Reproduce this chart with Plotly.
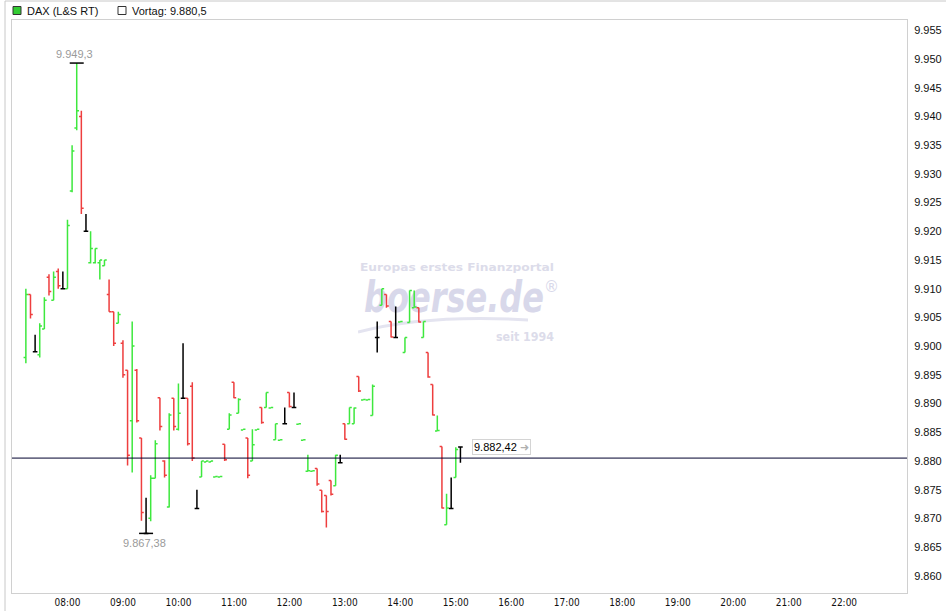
import base64
import plotly.graph_objects as go

# ---------------- data ----------------
DAY = "2014-12-01"
times = ["07:15", "07:20", "07:25", "07:30", "07:35", "07:40", "07:45", "07:50", "07:55",
         "08:00", "08:05", "08:10", "08:15", "08:20", "08:25", "08:30", "08:35", "08:40", "08:45", "08:50", "08:55",
         "09:00", "09:05", "09:10", "09:15", "09:20", "09:25", "09:30", "09:35", "09:40", "09:45", "09:50", "09:55",
         "10:00", "10:05", "10:10", "10:15", "10:20", "10:25", "10:30", "10:35", "10:40", "10:45", "10:50", "10:55",
         "11:00", "11:05", "11:10", "11:15", "11:20", "11:25", "11:30", "11:35", "11:40", "11:45", "11:50", "11:55",
         "12:00", "12:05", "12:10", "12:15", "12:20", "12:25", "12:30", "12:35", "12:40", "12:45", "12:50", "12:55",
         "13:00", "13:05", "13:10", "13:15", "13:20", "13:25", "13:30", "13:35", "13:40", "13:45", "13:50", "13:55",
         "14:00", "14:05", "14:10", "14:15", "14:20", "14:25", "14:30", "14:35", "14:40", "14:45", "14:50", "14:55",
         "15:00", "15:05"]
opens = [9898, 9909, 9899, 9898.5, 9903, 9912, 9908, 9913, 9910,
         9910, 9927, 9938, 9940, 9920, 9914.5, 9914.5, 9914.5, 9914, 9909, 9906, 9904,
         9900.5, 9895.8, 9887, 9895.8, 9884, 9867.38, 9870, 9877, 9891, 9880, 9872, 9890.9,
         9885.5, 9890.9, 9890.9, 9893, 9871.7, 9877.2, 9879.8, 9879.8, 9877.2, 9877.2, 9882.9, 9885.5,
         9893.7, 9888.3, 9885.4, 9884, 9880, 9885.4, 9889.3, 9889.3, 9889.2, 9883.7, 9883.6, 9886.5,
         9891.9, 9889.3, 9886.4, 9883.6, 9878.2, 9878.2, 9878.7, 9874.9, 9874, 9876.6, 9875.7, 9879.7,
         9886.5, 9886.5, 9886.5, 9894.7, 9890.6, 9890.6, 9887.9, 9901.5, 9907.1, 9909, 9904.3, 9901.5,
         9904.2, 9898.9, 9904.1, 9906.7, 9906.7, 9901.5, 9898.9, 9893.3, 9885.2, 9882.5, 9868.9, 9871.7,
         9877.1, 9882.42]
highs = [9910, 9909, 9902, 9904, 9908.5, 9912.5, 9913, 9913.5, 9913,
         9922, 9935, 9949.3, 9941, 9923, 9920, 9917, 9915, 9915, 9911.6, 9906, 9906,
         9901, 9895.8, 9904.3, 9896, 9884, 9873.6, 9877.5, 9883.6, 9891, 9880.1, 9888.3, 9890.9,
         9893.5, 9900.5, 9890.9, 9893.7, 9875, 9880, 9880, 9880, 9877.3, 9877.3, 9882.9, 9888.3,
         9893.7, 9890.9, 9885.5, 9884, 9885.5, 9885.5, 9889.3, 9891.9, 9889.3, 9886.5, 9883.7, 9889.3,
         9891.9, 9891.9, 9886.5, 9883.7, 9881.1, 9878.3, 9878.7, 9874.9, 9874, 9876.6, 9881.1, 9881.1,
         9886.5, 9889.3, 9889.3, 9894.7, 9890.7, 9890.7, 9893.3, 9904.3, 9910, 9909, 9904.3, 9906.9,
         9904.3, 9901.5, 9909.7, 9909.7, 9906.7, 9904.3, 9898.9, 9893.3, 9887.9, 9882.5, 9874.3, 9877.1,
         9882.4, 9882.5]
lows = [9897, 9904.8, 9899, 9898, 9903, 9908.8, 9908, 9910, 9910,
        9910, 9926.8, 9937.6, 9923, 9920, 9914.4, 9914.4, 9911.6, 9914, 9906, 9900, 9904,
        9894.5, 9879.2, 9878, 9886.7, 9869.6, 9867.38, 9869.5, 9877, 9885.3, 9877.1, 9871.9, 9885.3,
        9885.3, 9890.9, 9882.7, 9880, 9871.7, 9877.2, 9879.8, 9879.8, 9877.2, 9877.2, 9880, 9885.5,
        9890.9, 9888.3, 9885.4, 9877, 9880, 9885.4, 9886.5, 9889.3, 9889.2, 9883.7, 9883.6, 9886.5,
        9889.3, 9889.3, 9886.4, 9883.6, 9878.2, 9878.2, 9875.7, 9871, 9868.4, 9874, 9875.7, 9879.7,
        9883.7, 9886.5, 9886.5, 9892, 9890.6, 9890.6, 9887.9, 9898.9, 9907.1, 9906.7, 9901.5, 9901.5,
        9904.2, 9898.9, 9904.1, 9906.7, 9904.1, 9901.5, 9894.5, 9887.9, 9885.2, 9871.7, 9868.9, 9871.7,
        9877.1, 9879.7]
closes = [9909, 9905.5, 9899, 9903.5, 9908, 9909.5, 9912, 9910.5, 9910,
          9921, 9934, 9941, 9924, 9920, 9917, 9917, 9915, 9915, 9906, 9900.5, 9905.5,
          9895, 9881, 9900, 9887, 9871, 9867.38, 9877, 9883, 9886, 9877.5, 9888, 9886,
          9888.3, 9890.9, 9883, 9880.5, 9871.7, 9880, 9880, 9880, 9877.3, 9877.3, 9880.2, 9888,
          9891, 9890.7, 9885.5, 9877.5, 9882.8, 9885.5, 9886.7, 9891.9, 9889.3, 9886.5, 9883.7, 9886.5,
          9889.5, 9889.3, 9886.5, 9883.7, 9878.3, 9878.3, 9876, 9871.2, 9871.2, 9874.2, 9881, 9879.7,
          9883.8, 9889.3, 9889.2, 9892.2, 9890.7, 9890.7, 9893, 9901.5, 9910, 9907, 9901.6, 9901.5,
          9904.3, 9901.5, 9909.7, 9906.8, 9904.2, 9904.3, 9894.6, 9888, 9885.3, 9871.8, 9871.8, 9871.7,
          9882, 9882.42]

VORTAG = 9880.5
y_ticks = list(range(9860, 9956, 5))
x_ticks = ["%02d:00" % h for h in range(8, 23)]
X_RANGE = ("07:00", "23:08")
Y_RANGE = (9857.0, 9956.8)

GREEN = "#3ee83e"
RED = "#ee3e3e"
BLACK = "#000000"

# ---------------- helpers ----------------
W, H = 946, 611
ML, MR, MT, MB = 12, 39, 20, 18
PW, PH = W - ML - MR, H - MT - MB


def px(x):
    return (x - ML) / PW


def py(y):
    return (H - MB - y) / PH


def ts(t):
    return f"{DAY} {t}"


fig = go.Figure()

groups = [("up", GREEN, lambda o, c: c > o),
          ("down", RED, lambda o, c: c < o),
          ("flat", BLACK, lambda o, c: c == o)]
for name, col, cond in groups:
    idx = [i for i in range(len(times)) if cond(opens[i], closes[i])]
    fig.add_trace(go.Ohlc(
        x=[ts(times[i]) for i in idx],
        open=[opens[i] for i in idx],
        high=[highs[i] for i in idx],
        low=[lows[i] for i in idx],
        close=[closes[i] for i in idx],
        increasing=dict(line=dict(color=col, width=1.5)),
        decreasing=dict(line=dict(color=col, width=1.5)),
        tickwidth=0.5, name=name, showlegend=False, hoverinfo="skip",
    ))

# high / low markers
i_hi = max(range(len(highs)), key=lambda i: highs[i])
i_lo = min(range(len(lows)), key=lambda i: lows[i])
fig.add_trace(go.Scatter(
    x=[ts(times[i_hi]), ts(times[i_lo])], y=[highs[i_hi], lows[i_lo]],
    mode="markers", marker=dict(symbol="line-ew", size=10, line=dict(color=BLACK, width=1.5)),
    showlegend=False, hoverinfo="skip"))


def de(v, nd):
    s = f"{v:,.{nd}f}"
    return s.replace(",", "X").replace(".", ",").replace("X", ".")


gray_font = dict(family="Liberation Sans, Arial, sans-serif", size=11, color="#9a9a9a")
fig.add_annotation(x=ts(times[i_hi]), y=highs[i_hi], text=de(highs[i_hi], 1), showarrow=False,
                   yanchor="bottom", yshift=1, xshift=-2, font=gray_font)
fig.add_annotation(x=ts(times[i_lo]), y=lows[i_lo], text=de(lows[i_lo], 2), showarrow=False,
                   yanchor="top", yshift=-2, xshift=-2, font=gray_font)

# last price box
fig.add_annotation(x=ts(times[-1]), y=closes[-1], xanchor="left", xshift=12, showarrow=False,
                   text=de(closes[-1], 2) + " <span style='color:#b0b0b0'>➜</span>",
                   font=dict(family="Liberation Sans, Arial, sans-serif", size=11, color="#000"),
                   bgcolor="white", bordercolor="#d4d4d4", borderwidth=1, borderpad=1)

# previous close line
fig.add_shape(type="line", xref="paper", x0=0, x1=1, yref="y", y0=VORTAG, y1=VORTAG,
              line=dict(color="#00002e", width=1))

# outer frame lines
fig.add_shape(type="line", xref="paper", yref="paper", x0=px(5), x1=px(5), y0=py(611), y1=py(1),
              line=dict(color="#c8c8c8", width=1))
fig.add_shape(type="line", xref="paper", yref="paper", x0=px(5), x1=px(946), y0=py(1), y1=py(1),
              line=dict(color="#c8c8c8", width=1))

# legend (top)
fig.add_shape(type="rect", xref="paper", yref="paper", x0=px(13), x1=px(21), y0=py(14.5), y1=py(6.5),
              line=dict(color="#333", width=1), fillcolor="#33cc33")
fig.add_shape(type="rect", xref="paper", yref="paper", x0=px(118), x1=px(126), y0=py(14.5), y1=py(6.5),
              line=dict(color="#333", width=1), fillcolor="white")
leg_font = dict(family="Liberation Sans, Arial, sans-serif", size=11, color="#111")
fig.add_annotation(xref="paper", yref="paper", x=px(25), y=py(10.5), xanchor="left", yanchor="middle",
                   text="DAX (L&amp;S RT)", showarrow=False, font=leg_font)
fig.add_annotation(xref="paper", yref="paper", x=px(130), y=py(10.5), xanchor="left", yanchor="middle",
                   text="Vortag: " + de(VORTAG, 1), showarrow=False, font=leg_font)

# watermark (behind data)
svg = """<svg xmlns='http://www.w3.org/2000/svg' width='200' height='86' viewBox='0 0 200 86'>
<text x='2' y='13' font-family='DejaVu Sans' font-weight='bold' font-size='11' fill='#dcdcea'
 textLength='194' lengthAdjust='spacingAndGlyphs'>Europas erstes Finanzportal</text>
<text x='6' y='54' font-family='DejaVu Sans' font-weight='bold' font-style='italic' font-size='42' fill='#d8d8ea'
 textLength='180' lengthAdjust='spacingAndGlyphs'>boerse.de</text>
<text x='186' y='34' font-family='DejaVu Sans' font-size='15' fill='#d8d8ea'>®</text>
<path d='M0 74 Q 70 56 170 62' stroke='#e4e4f0' stroke-width='3' fill='none'/>
<text x='138' y='83' font-family='DejaVu Sans' font-weight='bold' font-size='12' fill='#dcdcea'
 textLength='58' lengthAdjust='spacingAndGlyphs'>seit 1994</text>
</svg>"""
fig.add_layout_image(dict(source="data:image/svg+xml;base64," + base64.b64encode(svg.encode()).decode(),
                          xref="paper", yref="paper", x=px(358), y=py(258), sizex=200 / PW, sizey=86 / PH,
                          xanchor="left", yanchor="top", sizing="stretch", layer="below"))

fig.update_layout(
    width=W, height=H, margin=dict(l=ML, r=MR, t=MT, b=MB, autoexpand=False),
    paper_bgcolor="white", plot_bgcolor="white", separators=",.", showlegend=False,
    xaxis=dict(type="date", range=[ts(X_RANGE[0]), ts(X_RANGE[1])], automargin=False,
               tickvals=[ts(t) for t in x_ticks], ticktext=x_ticks,
               showgrid=False, zeroline=False, showline=True, mirror=True, linecolor="#d0d0d0",
               ticks="", rangeslider=dict(visible=False),
               tickfont=dict(family="DejaVu Sans Condensed, Liberation Sans Narrow, Arial Narrow, sans-serif",
                             size=10, color="#111")),
    yaxis=dict(range=list(Y_RANGE), side="right", tickvals=y_ticks, tickformat=",d", automargin=False,
               ticklabelstandoff=4,
               showgrid=False, zeroline=False, showline=True, mirror=True, linecolor="#d0d0d0",
               ticks="", tickfont=dict(family="Liberation Sans, Arial, sans-serif", size=11, color="#111")),
)

fig.write_html("out.html", config={"displayModeBar": False},
               post_script="document.body.style.margin='0';document.body.style.overflow='hidden';")
